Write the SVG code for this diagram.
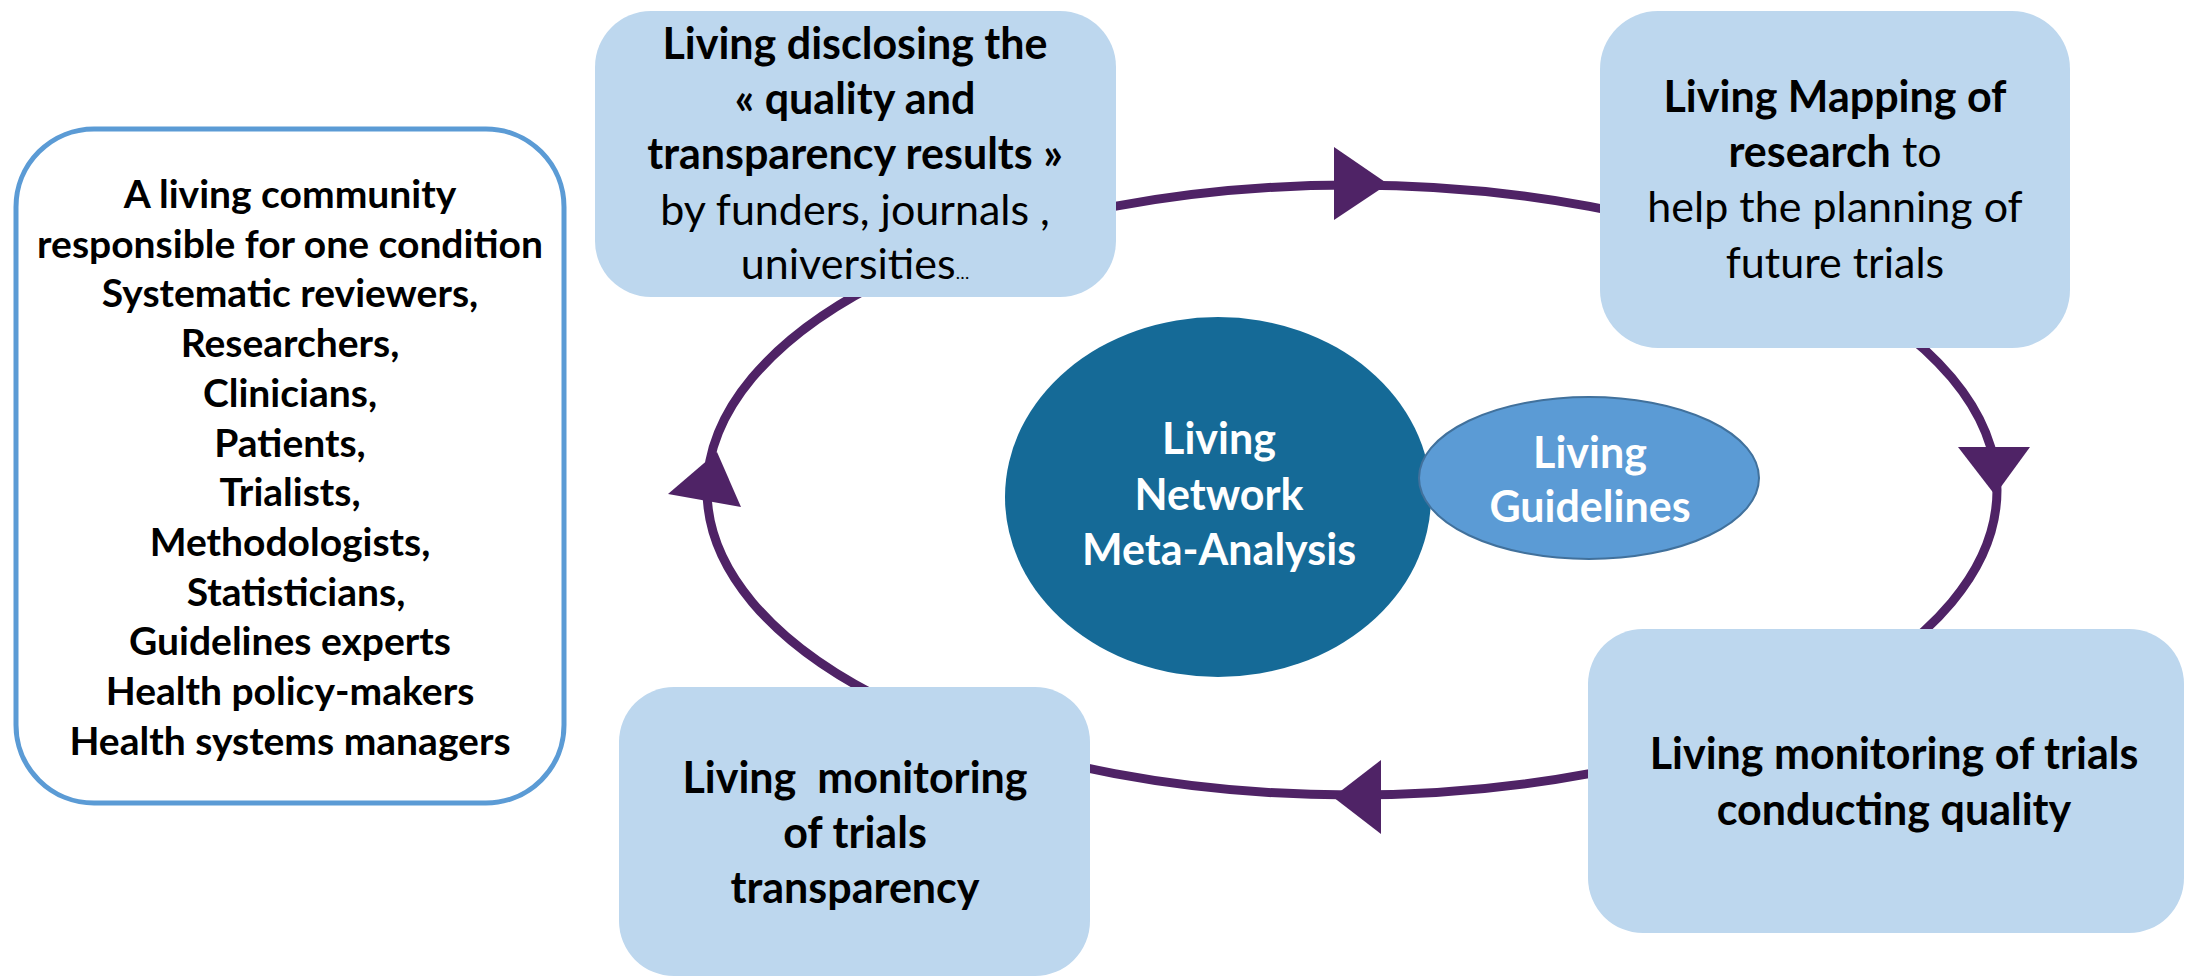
<svg xmlns="http://www.w3.org/2000/svg" width="2185" height="977" viewBox="0 0 2185 977">
<style>
.box{fill:#BDD7EE}
.t{font-family:Lato,"Open Sans","Liberation Sans",sans-serif;fill:#000;text-anchor:middle;font-size:43px}
.s{font-size:39px}
.b{font-weight:bold}
.w{fill:#fff}
.cyc{fill:none;stroke:#4F2366;stroke-width:9}
.ah{fill:#4F2366}
</style>
<rect width="2185" height="977" fill="#fff"/>
<g id="connectors">
<ellipse class="cyc" cx="1352" cy="490" rx="645" ry="305"/>
<polygon class="ah" points="1334,147 1388,184 1334,220"/>
<polygon class="ah" points="1958,447 2030,447 1995,495"/>
<polygon class="ah" points="1381,760 1333,797 1381,834"/>
<polygon class="ah" points="668,494 717,452 741,507"/>
</g>
<g id="community">
<rect x="16" y="129" width="548" height="674" rx="78" fill="#fff" stroke="#5B9BD5" stroke-width="5"/>
<text class="t s b" x="290" y="208">A living community</text>
<text class="t s b" x="290" y="258">responsible for one condition</text>
<text class="t s b" x="290" y="307">Systematic reviewers,</text>
<text class="t s b" x="290" y="357">Researchers,</text>
<text class="t s b" x="290" y="407">Clinicians,</text>
<text class="t s b" x="290" y="457">Patients,</text>
<text class="t s b" x="290" y="506">Trialists,</text>
<text class="t s b" x="290" y="556">Methodologists,</text>
<text class="t s b" x="296" y="606">Statisticians,</text>
<text class="t s b" x="290" y="655">Guidelines experts</text>
<text class="t s b" x="290" y="705">Health policy-makers</text>
<text class="t s b" x="290" y="755">Health systems managers</text>
</g>
<g id="disclosing">
<rect class="box" x="595" y="11" width="521" height="286" rx="56"/>
<text class="t b" x="855" y="59">Living disclosing the</text>
<text class="t b" x="855" y="114">« quality and</text>
<text class="t b" x="855" y="169">transparency results »</text>
<text class="t" x="855" y="225">by funders, journals ,</text>
<text class="t" x="855" y="279">universities<tspan style="font-size:18px">…</tspan></text>
</g>
<g id="mapping">
<rect class="box" x="1600" y="11" width="470" height="337" rx="58"/>
<text class="t b" x="1835" y="112">Living Mapping of</text>
<text class="t" x="1835" y="167"><tspan class="b">research</tspan> to</text>
<text class="t" x="1835" y="222">help the planning of</text>
<text class="t" x="1835" y="278">future trials</text>
</g>
<g id="conducting">
<rect class="box" x="1588" y="629" width="596" height="304" rx="55"/>
<text class="t b" x="1894" y="769">Living monitoring of trials</text>
<text class="t b" x="1894" y="825">conducting quality</text>
</g>
<g id="transparency">
<rect class="box" x="619" y="687" width="471" height="289" rx="55"/>
<text class="t b" x="855" y="793" xml:space="preserve">Living  monitoring</text>
<text class="t b" x="855" y="848">of trials</text>
<text class="t b" x="855" y="903">transparency</text>
</g>
<g id="nma">
<ellipse cx="1218" cy="497" rx="213" ry="180" fill="#156A97"/>
<text class="t b w" x="1219" y="454">Living</text>
<text class="t b w" x="1219" y="510">Network</text>
<text class="t b w" x="1219" y="565">Meta-Analysis</text>
</g>
<g id="guidelines">
<ellipse cx="1589" cy="478" rx="170" ry="81" fill="#5B9BD5" stroke="#41719C" stroke-width="2"/>
<text class="t b w" x="1590" y="468">Living</text>
<text class="t b w" x="1590" y="522">Guidelines</text>
</g>
</svg>
